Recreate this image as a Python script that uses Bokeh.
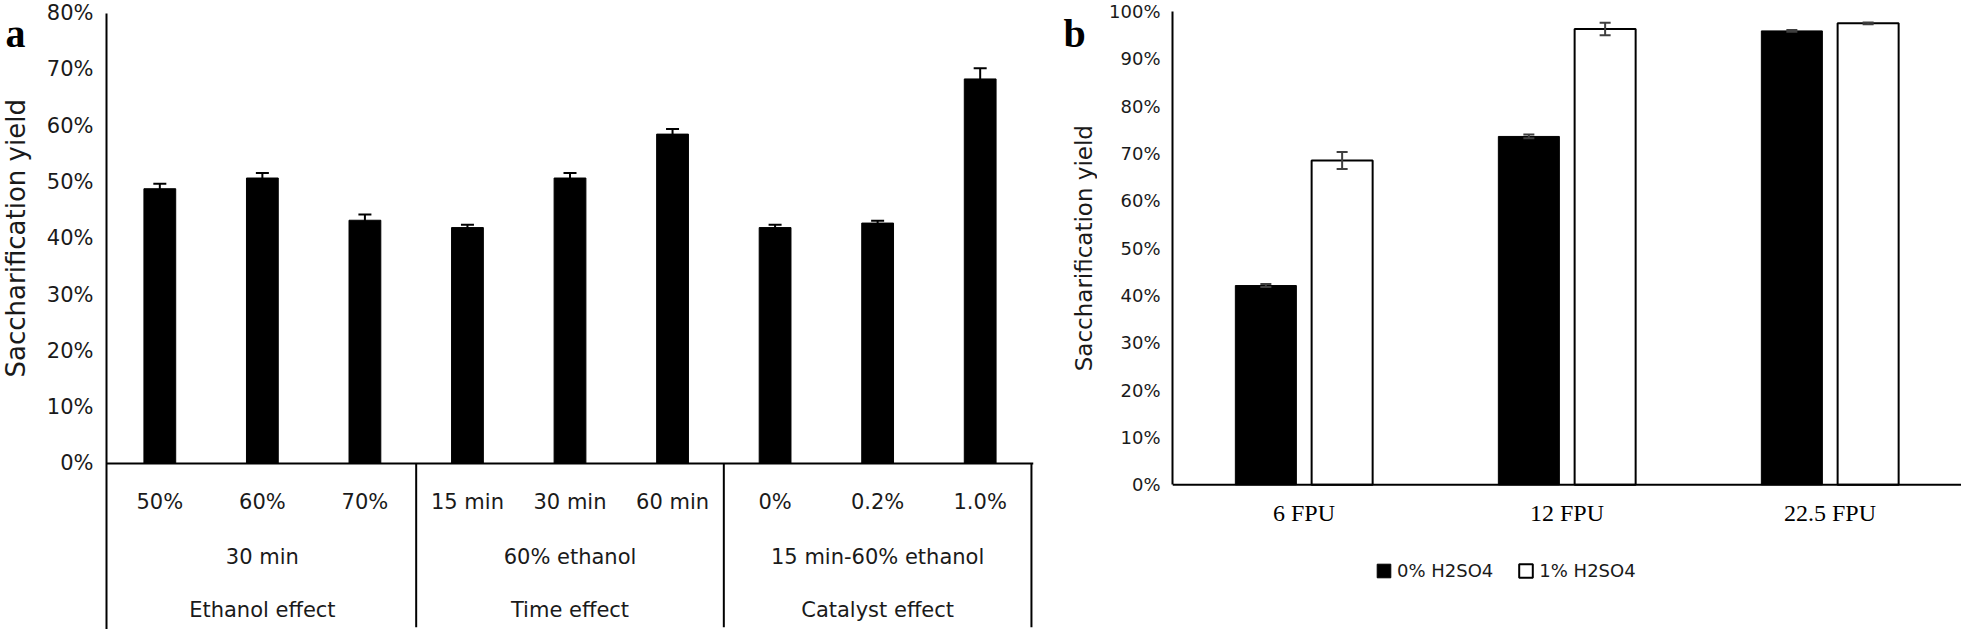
from math import pi
from bokeh.plotting import figure
from bokeh.models import (FactorRange, ColumnDataSource, Whisker, TeeHead, Range1d,
                          FixedTicker, PrintfTickFormatter, Span)
from bokeh.transform import dodge
from bokeh.layouts import row
from bokeh.core.properties import value
from bokeh.embed import file_html
from bokeh.resources import INLINE

# ---------------- data: panel a ----------------
a_groups = ["Ethanol effect", "Time effect", "Catalyst effect"]
a_conditions = ["30 min", "60% ethanol", "15 min-60% ethanol"]
a_levels = ["50%", "60%", "70%", "15 min", "30 min", "60 min", "0%", "0.2%", "1.0%"]
a_yield = [48.8, 50.7, 43.2, 41.9, 50.7, 58.5, 41.9, 42.7, 68.3]
a_err = [0.9, 0.9, 1.0, 0.5, 0.9, 0.9, 0.5, 0.4, 1.9]
a_ticks = [0, 10, 20, 30, 40, 50, 60, 70, 80]

# ---------------- data: panel b ----------------
b_enzyme = ["6 FPU", "12 FPU", "22.5 FPU"]
b_series = ["0% H2SO4", "1% H2SO4"]
b_no_acid = [42.1, 73.6, 95.9]
b_no_acid_err = [0.3, 0.4, 0.2]
b_acid = [68.5, 96.3, 97.5]
b_acid_err = [1.8, 1.3, 0.2]
b_ticks = [0, 10, 20, 30, 40, 50, 60, 70, 80, 90, 100]

y_label = "Saccharification yield"
panel_letters = ["a", "b"]

SANS = "DejaVu Sans"
SERIF = "Liberation Serif"
TXT = "#1a1a1a"
H = 629
TOP = 10


def bare(width, y_range):
    f = figure(width=width, height=H, x_range=Range1d(0, width), y_range=y_range,
               output_backend="svg", toolbar_location=None,
               x_axis_location=None, y_axis_location=None,
               min_border_left=0, min_border_right=0, min_border_top=TOP, min_border_bottom=0)
    f.outline_line_color = None
    f.grid.visible = False
    return f


def style_yaxis(ax, ticks, size, standoff):
    ax.ticker = FixedTicker(ticks=ticks)
    ax.formatter = PrintfTickFormatter(format="%d%%")
    ax.major_tick_out = 0
    ax.major_tick_in = 0
    ax.minor_tick_out = 0
    ax.minor_tick_in = 0
    ax.axis_line_width = 2
    ax.axis_line_color = "black"
    ax.major_label_text_font = SANS
    ax.major_label_text_font_size = size
    ax.major_label_text_color = TXT
    ax.major_label_standoff = standoff


# ---------------- panel a ----------------
src_a = ColumnDataSource(dict(
    level=a_levels, value=a_yield,
    upper=[v + e for v, e in zip(a_yield, a_err)],
    lower=[v - e for v, e in zip(a_yield, a_err)],
))

ya_range = Range1d(-29.5, 80.46)
pa = figure(width=1005, height=H,
            x_range=FactorRange(*a_levels, range_padding=0.02, range_padding_units="absolute"),
            y_range=ya_range, output_backend="svg", toolbar_location=None,
            x_axis_location=None, min_border_left=66, min_border_right=12,
            min_border_top=TOP, min_border_bottom=0)
pa.outline_line_color = None
pa.grid.visible = False
style_yaxis(pa.yaxis[0], a_ticks, "21px", 13)
pa.yaxis[0].bounds = (ya_range.start, a_ticks[-1])

pa.vbar(x="level", top="value", width=0.31, source=src_a,
        fill_color="black", line_color="black")
pa.add_layout(Whisker(source=src_a, base="level", upper="upper", lower="lower",
                      upper_head=TeeHead(size=13, line_width=2, line_color="black"),
                      lower_head=None, line_width=2, line_color="black", level="annotation"))
pa.add_layout(Span(location=0, dimension="width", line_color="black", line_width=2))

seps = [(lvl, 0.5) for lvl in a_levels[2::3]]
pa.segment(x0=seps, y0=0, x1=seps, y1=-29.1, line_color="black", line_width=2)

for ys, xs, texts in ((-6.93, a_levels, a_levels),
                      (-16.7, a_levels[1::3], a_conditions),
                      (-26.1, a_levels[1::3], a_groups)):
    pa.text(x=xs, y=ys, text=texts, text_font=value(SANS), text_font_size="21px",
            text_color=TXT, text_align="center", text_baseline="middle")

fa = bare(40, ya_range)
fa.text(x=[15], y=[(a_ticks[0] + a_ticks[-1]) / 2], text=[y_label], angle=pi / 2,
        text_font=value(SANS), text_font_size="26px", text_color=TXT,
        text_align="center", text_baseline="middle")
fa.text(x=[5], y=[76.4], text=[panel_letters[0]], text_font=value(SERIF),
        text_font_style="bold", text_font_size="40px", text_color="black",
        text_align="left", text_baseline="alphabetic")

# ---------------- panel b ----------------
src_b = ColumnDataSource(dict(
    enzyme=b_enzyme, no_acid=b_no_acid, acid=b_acid,
    no_up=[v + e for v, e in zip(b_no_acid, b_no_acid_err)],
    no_lo=[v - e for v, e in zip(b_no_acid, b_no_acid_err)],
    ac_up=[v + e for v, e in zip(b_acid, b_acid_err)],
    ac_lo=[v - e for v, e in zip(b_acid, b_acid_err)],
))

yb_range = Range1d(-30.57, 100.21)
pb = figure(width=864, height=H, x_range=FactorRange(*b_enzyme), y_range=yb_range,
            output_backend="svg", toolbar_location=None, x_axis_location=None,
            min_border_left=75, min_border_right=0, min_border_top=TOP, min_border_bottom=0)
pb.outline_line_color = None
pb.grid.visible = False
style_yaxis(pb.yaxis[0], b_ticks, "18px", 12)
pb.yaxis[0].bounds = (0, b_ticks[-1])
pb.add_layout(Span(location=0, dimension="width", line_color="black", line_width=2))

OFF = 0.145
pb.vbar(x=dodge("enzyme", -OFF, range=pb.x_range), top="no_acid", width=0.232, source=src_b,
        fill_color="black", line_color="black", line_width=1, legend_label=b_series[0])
pb.vbar(x=dodge("enzyme", OFF, range=pb.x_range), top="acid", width=0.232, source=src_b,
        fill_color="white", line_color="black", line_width=2, legend_label=b_series[1])
ECOL = "#3f3f3f"
for off, up, lo in ((-OFF, "no_up", "no_lo"), (OFF, "ac_up", "ac_lo")):
    pb.add_layout(Whisker(source=src_b, base=dodge("enzyme", off, range=pb.x_range),
                          upper=up, lower=lo,
                          upper_head=TeeHead(size=11, line_width=2, line_color=ECOL),
                          lower_head=TeeHead(size=11, line_width=2, line_color=ECOL),
                          line_width=2, line_color=ECOL, level="annotation"))

pb.text(x=b_enzyme, y=-6.06, text=b_enzyme, text_font=value(SERIF), text_font_size="24px",
        text_color="black", text_align="center", text_baseline="middle")

lg = pb.legend[0]
lg.orientation = "horizontal"
lg.location = (203, 48)
lg.glyph_width = 17
lg.glyph_height = 17
lg.label_height = 17
lg.label_standoff = 5
lg.spacing = 24
lg.padding = 0
lg.margin = 0
lg.border_line_color = None
lg.background_fill_alpha = 0
lg.label_text_font = SANS
lg.label_text_font_size = "18px"
lg.label_text_color = TXT

fb = bare(52, yb_range)
fb.text(x=[38], y=[(b_ticks[0] + b_ticks[-1]) / 2], text=[y_label], angle=pi / 2,
        text_font=value(SANS), text_font_size="23px", text_color=TXT,
        text_align="center", text_baseline="middle")
fb.text(x=[18], y=[95.35], text=[panel_letters[1]], text_font=value(SERIF),
        text_font_style="bold", text_font_size="40px", text_color="black",
        text_align="left", text_baseline="alphabetic")

layout = row(fa, pa, fb, pb)
open("out.html", "w").write(file_html(layout, INLINE, "chart"))
